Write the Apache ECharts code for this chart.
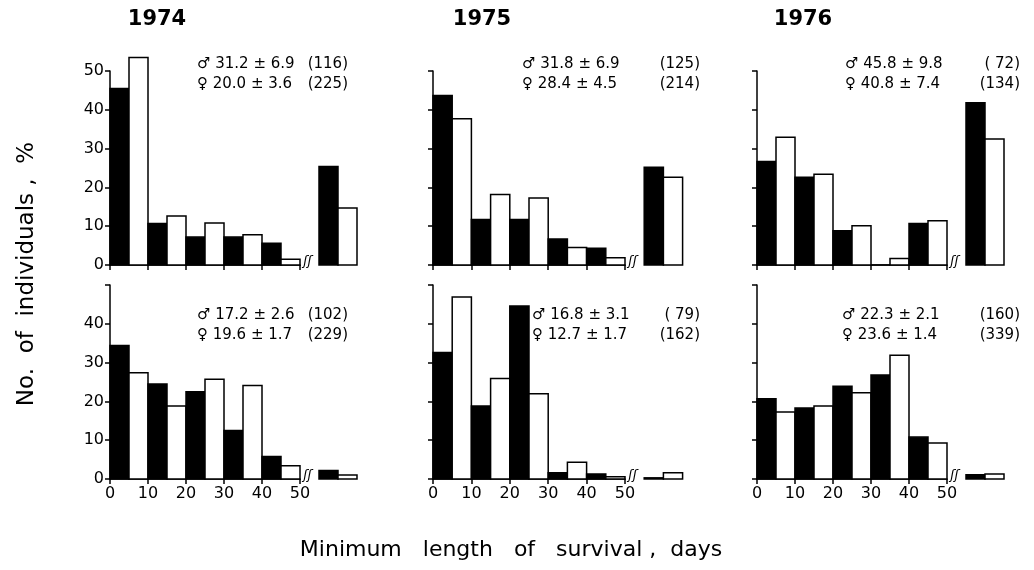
<!DOCTYPE html>
<html>
<head>
<meta charset="utf-8">
<title>Minimum length of survival</title>
<script src="https://cdn.jsdelivr.net/npm/echarts@6/dist/echarts.min.js"></script>
<style>
html, body { margin: 0; padding: 0; background: #fff; }
#main { width: 1034px; height: 570px; }
</style>
</head>
<body>
<div id="main"></div>
<script>
// 每组起点（天）：0-50 每 10 天一组，55 是折断号后面那一组
var binStarts = [0, 10, 20, 30, 40, 55];
var years = ['1974', '1975', '1976'];

// 上排
var male1974a = [45.5, 10.7, 7.2, 7.2, 5.6, 25.4];
var female1974a = [53.5, 12.6, 10.8, 7.8, 1.5, 14.7];
var male1975a = [43.7, 11.7, 11.7, 6.7, 4.3, 25.2];
var female1975a = [37.7, 18.2, 17.3, 4.5, 1.9, 22.6];
var male1976a = [26.7, 22.6, 8.8, 0, 10.7, 41.8];
var female1976a = [32.9, 23.4, 10.1, 1.7, 11.4, 32.5];

// 下排
var male1974b = [34.4, 24.5, 22.5, 12.5, 5.8, 2.2];
var female1974b = [27.4, 18.8, 25.7, 24.1, 3.4, 1.0];
var male1975b = [32.6, 18.8, 44.6, 1.6, 1.3, 0.3];
var female1975b = [46.9, 25.9, 22.0, 4.3, 0.6, 1.6];
var male1976b = [20.7, 18.3, 23.9, 26.8, 10.8, 1.1];
var female1976b = [17.3, 18.8, 22.2, 31.9, 9.3, 1.3];

// 平均值 ± 标准误 （样本数）
var maleStats = ['31.2 ± 6.9', '31.8 ± 6.9', '45.8 ± 9.8', '17.2 ± 2.6', '16.8 ± 3.1', '22.3 ± 2.1'];
var maleN = ['(116)', '(125)', '( 72)', '(102)', '( 79)', '(160)'];
var femaleStats = ['20.0 ± 3.6', '28.4 ± 4.5', '40.8 ± 7.4', '19.6 ± 1.7', '12.7 ± 1.7', '23.6 ± 1.4'];
var femaleN = ['(225)', '(214)', '(134)', '(229)', '(162)', '(339)'];

var maleSets = [male1974a, male1975a, male1976a, male1974b, male1975b, male1976b];
var femaleSets = [female1974a, female1975a, female1976a, female1974b, female1975b, female1976b];

// 面板位置
var colLeft = [110, 433, 757];
var colWidth = [190, 192, 190];
var rowTop = [71, 285];
var rowHeight = 194;
var noteX = [197, 522, 845, 197, 532, 842];
var noteRight = [348, 700, 1020, 348, 700, 1020];
var noteY = [[64, 84], [315, 335]];
var font = 'DejaVu Sans';

var myChart = echarts.init(document.getElementById('main'));

function renderBar(params, api) {
    var x0 = api.value(0);
    var p0 = api.coord([x0, api.value(1)]);
    var p1 = api.coord([x0 + 5, 0]);
    return {
        type: 'rect',
        shape: { x: p0[0], y: p0[1], width: p1[0] - p0[0], height: p1[1] - p0[1] },
        style: { fill: api.value(2) ? '#fff' : '#000', stroke: '#000', lineWidth: 1.5 }
    };
}

function renderBreak(params, api) {
    var p = api.coord([api.value(0), 0]);
    return {
        type: 'text',
        x: p[0], y: p[1] + 3,
        style: { text: 'ʃʃ', font: 'italic 13px ' + font, fill: '#000', align: 'center', verticalAlign: 'bottom' }
    };
}

var grids = [], xAxes = [], yAxes = [], series = [], texts = [];

for (var i = 0; i < 6; i++) {
    var row = Math.floor(i / 3), col = i % 3;
    grids.push({ left: colLeft[col], top: rowTop[row], width: colWidth[col], height: rowHeight, outerBoundsMode: 'none' });
    xAxes.push({
        gridIndex: i, type: 'value', min: 0, max: 50, interval: 10,
        axisLine: { lineStyle: { color: '#000', width: 1.5 } },
        axisTick: { length: 5, lineStyle: { color: '#000', width: 1.5 } },
        axisLabel: { show: row === 1, color: '#000', fontSize: 16, fontFamily: font, margin: 7 },
        splitLine: { show: false }
    });
    yAxes.push({
        gridIndex: i, type: 'value', min: 0, max: 50, interval: 10,
        axisLine: { show: true, lineStyle: { color: '#000', width: 1.5 } },
        axisTick: { show: true, length: 5, lineStyle: { color: '#000', width: 1.5 } },
        axisLabel: {
            show: col === 0, color: '#000', fontSize: 16, fontFamily: font, margin: 6,
            formatter: row === 0 ? '{value}' : function (v) { return v < 50 ? v : ''; }
        },
        splitLine: { show: false }
    });

    var data = [];
    for (var k = 0; k < binStarts.length; k++) {
        data.push([binStarts[k], maleSets[i][k], 0]);
        data.push([binStarts[k] + 5, femaleSets[i][k], 1]);
    }
    series.push({ type: 'custom', xAxisIndex: i, yAxisIndex: i, clip: false, silent: true, data: data, renderItem: renderBar });
    series.push({ type: 'custom', xAxisIndex: i, yAxisIndex: i, clip: false, silent: true, data: [[52]], renderItem: renderBreak, z: 3 });

    // 注释
    texts.push({ type: 'text', x: noteX[i], y: noteY[row][0], style: { text: '♂ ' + maleStats[i], font: '15px ' + font, fill: '#000', verticalAlign: 'middle' } });
    texts.push({ type: 'text', x: noteX[i], y: noteY[row][1], style: { text: '♀ ' + femaleStats[i], font: '15px ' + font, fill: '#000', verticalAlign: 'middle' } });
    texts.push({ type: 'text', x: noteRight[i], y: noteY[row][0], style: { text: maleN[i], font: '15px ' + font, fill: '#000', align: 'right', verticalAlign: 'middle' } });
    texts.push({ type: 'text', x: noteRight[i], y: noteY[row][1], style: { text: femaleN[i], font: '15px ' + font, fill: '#000', align: 'right', verticalAlign: 'middle' } });
}

// 年份
var yearX = [157, 482, 803];
for (var j = 0; j < 3; j++) {
    texts.push({ type: 'text', x: yearX[j], y: 20, style: { text: years[j], font: 'bold 21px ' + font, fill: '#000', align: 'center', verticalAlign: 'middle' } });
}
// 坐标轴标题
texts.push({ type: 'text', x: 27, y: 274, rotation: Math.PI / 2, style: { text: 'No.  of  individuals ,  %', font: '23px ' + font, fill: '#000', align: 'center', verticalAlign: 'middle' } });
texts.push({ type: 'text', x: 511, y: 550, style: { text: 'Minimum   length   of   survival ,  days', font: '22px ' + font, fill: '#000', align: 'center', verticalAlign: 'middle' } });

var option = {
    backgroundColor: '#fff',
    animation: false,
    grid: grids,
    xAxis: xAxes,
    yAxis: yAxes,
    series: series,
    graphic: texts
};

myChart.setOption(option);
</script>
</body>
</html>
